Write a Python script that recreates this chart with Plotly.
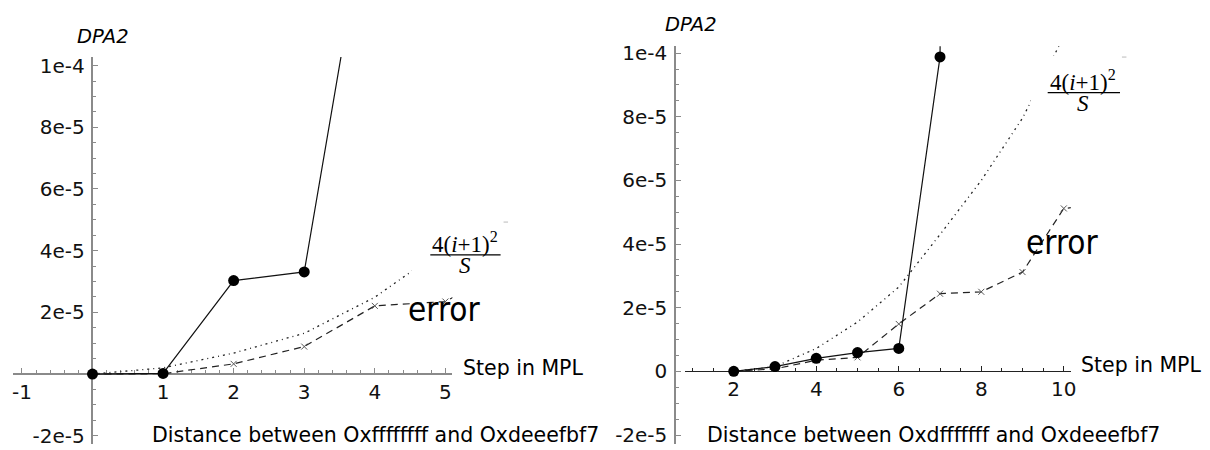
import plotly.graph_objects as go

# ---------------- data ----------------
# left panel: distance between 0xffffffff and 0xdeeefbf7
left_steps = [0, 1, 2, 3, 4]
left_dpa2 = [0.0, 2e-7, 3.03e-5, 3.31e-5, 1.67e-4]
left_err_steps = [0, 1, 2, 3, 4, 5, 6]
left_err = [0.0, 1e-7, 3.3e-6, 8.9e-6, 2.21e-5, 2.35e-5, 3.6e-5]
left_bound_steps = [0, 1, 2, 3, 4, 4.54, 5]
left_bound = [0.0, 2.0e-6, 6.8e-6, 1.32e-5, 2.49e-5, 3.36e-5, 4.15e-5]

# right panel: distance between 0xdfffffff and 0xdeeefbf7
right_steps = [2, 3, 4, 5, 6, 7, 8]
right_dpa2 = [0.0, 1.5e-6, 4.1e-6, 5.9e-6, 7.2e-6, 9.88e-5, 2e-3]
right_err_steps = [2, 3, 4, 5, 6, 7, 8, 9, 10, 11]
right_err = [0.0, 0.8e-6, 3.5e-6, 4.4e-6, 1.49e-5, 2.44e-5, 2.5e-5, 3.12e-5, 5.12e-5, 5.25e-5]
right_bound_steps = [2, 3, 4, 5, 6, 7, 8, 9, 10]
right_bound = [0.0, 1.5e-6, 7.2e-6, 1.55e-5, 2.65e-5, 4.3e-5, 6.0e-5, 7.96e-5, 1.053e-4]

left_xticks = [-1, 1, 2, 3, 4, 5]
left_xticktext = ["-1", "1", "2", "3", "4", "5"]
left_yticks = [-2e-5, 2e-5, 4e-5, 6e-5, 8e-5, 1e-4]
left_yticktext = ["-2e-5", "2e-5", "4e-5", "6e-5", "8e-5", "1e-4"]
right_xticks = [2, 4, 6, 8, 10]
right_xticktext = ["2", "4", "6", "8", "10"]
right_yticks = [-2e-5, 0, 2e-5, 4e-5, 6e-5, 8e-5, 1e-4]
right_yticktext = ["-2e-5", "0", "2e-5", "4e-5", "6e-5", "8e-5", "1e-4"]

x_title = "Step in MPL"
y_title = "DPA2"
left_title = "Distance between Oxffffffff and Oxdeeefbf7"
right_title = "Distance between Oxdfffffff and Oxdeeefbf7"

# ---------------- layout helpers ----------------
W, H = 1210, 450
def fx(p):
    return p / W
def fy(p):
    return 1 - p / H

SANS = "DejaVu Sans"
SERIF = "Liberation Serif"
TICKFONT = dict(family=SANS, size=20, color="#111")

fig = go.Figure()

def add_panel(xa, ya, bx, by, ex, ey, sx, sy):
    fig.add_trace(go.Scatter(x=bx, y=by, mode="lines", xaxis=xa, yaxis=ya,
                             line=dict(color="#222", width=1.3, dash="2px,4px,1px,4px"),
                             hoverinfo="skip", showlegend=False))
    fig.add_trace(go.Scatter(x=ex, y=ey, mode="lines+markers", xaxis=xa, yaxis=ya,
                             line=dict(color="#222", width=1.2, dash="7px,5px"),
                             marker=dict(symbol="x-thin", size=6, line=dict(color="#555", width=1)),
                             hoverinfo="skip", showlegend=False))
    fig.add_trace(go.Scatter(x=sx, y=sy, mode="lines+markers", xaxis=xa, yaxis=ya,
                             line=dict(color="#111", width=1.2),
                             marker=dict(symbol="circle", size=11, color="#000"),
                             hoverinfo="skip", showlegend=False))

add_panel("x", "y", left_bound_steps, left_bound, left_err_steps, left_err, left_steps, left_dpa2)
add_panel("x2", "y2", right_bound_steps, right_bound, right_err_steps, right_err, right_steps, right_dpa2)

def xaxis_cfg(domain, rng, pos, ticks, text, minor_dt, color, lw):
    return dict(domain=domain, range=rng, anchor="free", position=pos,
                showline=True, linecolor=color, linewidth=lw, layer="below traces",
                ticks="inside", ticklen=5, tickcolor=color, tickwidth=1,
                tickmode="array", tickvals=ticks, ticktext=text,
                tickfont=TICKFONT, ticklabelstandoff=0,
                minor=dict(tickmode="linear", tick0=0, dtick=minor_dt, ticks="inside",
                           ticklen=3, tickcolor=color, tickwidth=1, showgrid=False),
                showgrid=False, zeroline=False, fixedrange=True)

def yaxis_cfg(domain, rng, pos, ticks, text, color):
    return dict(domain=domain, range=rng, anchor="free", position=pos,
                showline=True, linecolor=color, linewidth=1.5, layer="below traces",
                ticks="inside", ticklen=5, tickcolor=color, tickwidth=1,
                tickmode="array", tickvals=ticks, ticktext=text,
                tickfont=TICKFONT, ticklabelstandoff=3,
                minor=dict(tickmode="linear", tick0=0, dtick=5e-6, ticks="inside",
                           ticklen=3, tickcolor=color, tickwidth=1, showgrid=False),
                showgrid=False, zeroline=False, fixedrange=True)

fig.update_layout(
    width=W, height=H,
    margin=dict(l=0, r=0, t=0, b=0, pad=0),
    paper_bgcolor="white", plot_bgcolor="white",
    showlegend=False,
    xaxis=xaxis_cfg([fx(12), fx(454)], [-1.127, 5.099], fy(375.7),
                    left_xticks, left_xticktext, 0.2, "#8a8a8a", 1.5),
    yaxis=yaxis_cfg([fy(447), fy(53)], [-22.7e-6, 102.77e-6], fx(92),
                    left_yticks, left_yticktext, "#8a8a8a"),
    xaxis2=xaxis_cfg([fx(688), fx(1076)], [0.8193, 10.169], fy(373),
                     right_xticks, right_xticktext, 0.5, "#222", 1.1),
    yaxis2=yaxis_cfg([fy(447), fy(42)], [-22.84e-6, 102.16e-6], fx(678),
                     right_yticks, right_yticktext, "#8a8a8a"),
)

ann = []
def text_ann(text, x, y, size, xanchor="left", family=SANS, yanchor="middle"):
    ann.append(dict(text=text, x=fx(x), y=fy(y), xref="paper", yref="paper",
                    xanchor=xanchor, yanchor=yanchor, showarrow=False,
                    font=dict(family=family, size=size, color="#000")))

# axis labels
text_ann(x_title, 462.5, 370, 20.5)
text_ann(x_title, 1084, 366.5, 20.5)
text_ann("<i>" + y_title + "</i>", 102.3, 32, 19.5, xanchor="center")
text_ann("<i>" + y_title + "</i>", 694.5, 20, 19.5, xanchor="center")
text_ann(left_title, 150, 438, 20.5)
text_ann(right_title, 708, 438, 20.5)
# curve labels
ERRFONT = "DejaVu Sans Condensed, DejaVu Sans"
text_ann("error", 407, 310, 33, family=ERRFONT)
text_ann("error", 1029, 242, 33, family=ERRFONT)

# formula labels with white backing box and fraction bar
def formula(cx, bar_y, bar_x0, bar_x1, box):
    bx0, by0, bx1, by1 = box
    ann.append(dict(text=" ", x=fx((bx0 + bx1) / 2), y=fy((by0 + by1) / 2),
                    xref="paper", yref="paper", xanchor="center", yanchor="middle",
                    width=bx1 - bx0, height=by1 - by0, bgcolor="white",
                    borderpad=0, borderwidth=0, showarrow=False,
                    font=dict(size=2)))
    text_ann("4(<i>i</i>+1)<sup>2</sup>", cx, bar_y - 12, 23, xanchor="center", family=SERIF)
    text_ann("<i>S</i>", cx, bar_y + 11, 23, xanchor="center", family=SERIF)
    ann.append(dict(text="", x=fx(bar_x1), y=fy(bar_y), xref="paper", yref="paper",
                    showarrow=True, arrowhead=0, arrowwidth=1.2, arrowcolor="#000",
                    ax=-(bar_x1 - bar_x0), ay=0, standoff=0, startstandoff=0))
    # small grey tick left over at the box corner
    ann.append(dict(text="", x=fx(bx1), y=fy(by0), xref="paper", yref="paper",
                    showarrow=True, arrowhead=0, arrowwidth=1, arrowcolor="#bbb",
                    ax=-6, ay=0, standoff=0, startstandoff=0))

formula(466.5, 254.3, 430.7, 502.5, (414, 221, 510, 286))
formula(1088.4, 89.3, 1051.7, 1125.5, (1036, 53, 1132, 116))

fig.update_layout(annotations=ann)
fig.write_html("out.html")
